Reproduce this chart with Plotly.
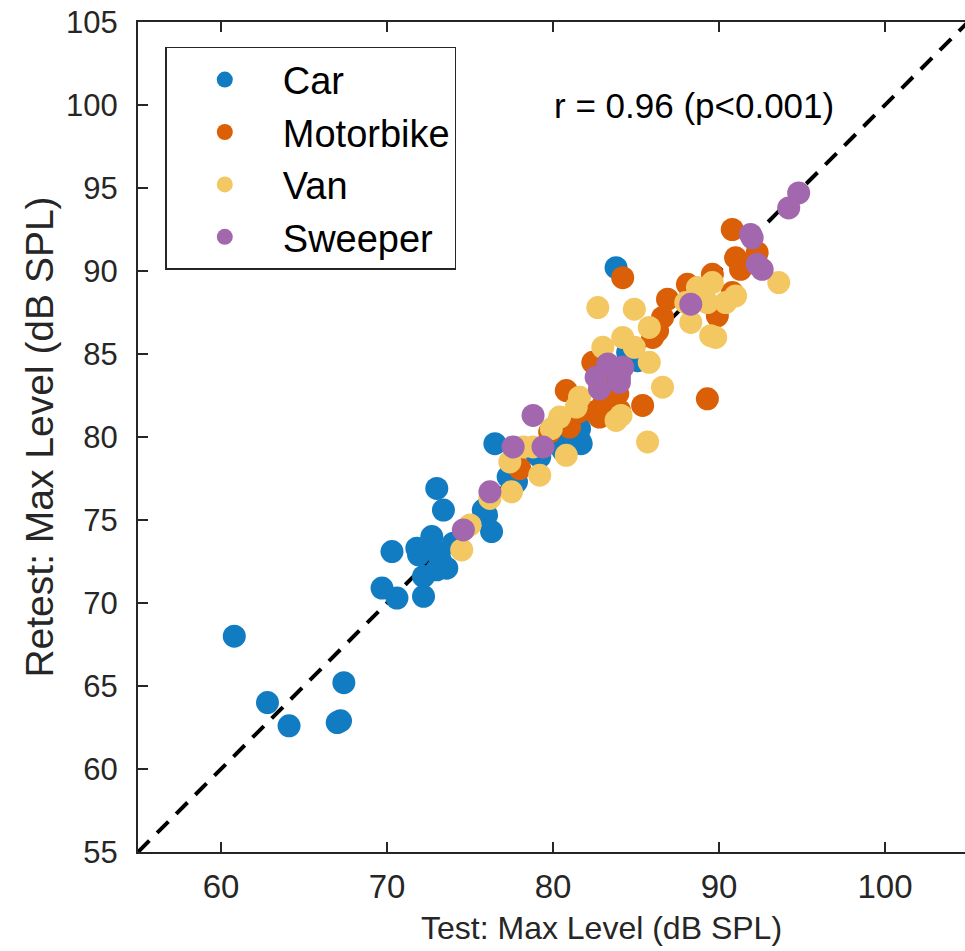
import plotly.graph_objects as go

# ---------------- data ----------------
car_x = [60.8, 62.8, 64.1, 67.0, 67.2, 67.4,
         69.7, 70.6, 70.3, 72.2, 72.2, 71.8, 71.9, 72.7, 72.8, 73.0, 73.6, 74.0, 73.2, 73.0, 73.4,
         75.8, 76.0, 76.3, 76.5, 77.3, 77.8, 77.5, 79.2, 79.0, 80.4, 80.6, 81.6, 81.7, 84.6, 83.8,
         84.5, 85.1, 81.6, 83.6]
car_y = [68.0, 64.0, 62.6, 62.8, 62.9, 65.2,
         70.9, 70.3, 73.1, 70.4, 71.6, 73.3, 72.9, 74.0, 73.2, 72.0, 72.1, 73.6, 72.6, 76.9, 75.6,
         75.6, 75.3, 74.3, 79.6, 77.6, 77.3, 78.0, 78.8, 79.0, 79.5, 79.2, 79.8, 79.6, 84.8, 90.2,
         85.1, 84.6, 80.5, 82.0]

moto_x = [84.2, 90.8, 91.0, 92.3, 91.3, 89.6, 88.1, 90.8, 89.9, 86.9, 86.6, 86.3, 86.0, 82.4,
          80.8, 83.0, 83.9, 85.4, 89.3, 83.3, 81.0, 82.8, 80.4, 79.8, 78.0, 83.5, 82.9, 84.0,
          82.5, 81.5]
moto_y = [89.6, 92.5, 90.8, 91.1, 90.1, 89.8, 89.2, 88.7, 87.3, 88.3, 87.2, 86.4, 86.0, 84.5,
          82.8, 81.9, 82.6, 81.9, 82.3, 82.4, 80.6, 81.2, 81.0, 80.3, 78.1, 83.0, 83.5, 81.6,
          81.5, 81.5]

van_x = [93.6, 90.4, 89.6, 89.3, 88.3, 89.5, 89.8, 82.7, 84.9, 85.8, 84.2, 83.0, 84.9, 85.8,
         86.6, 85.7, 81.6, 81.4, 84.1, 83.8, 79.9, 80.4, 78.8, 78.2, 77.4, 80.8, 79.2, 77.5,
         75.0, 74.5, 76.2, 91.0, 88.7, 88.0]
van_y = [89.3, 88.1, 89.3, 88.1, 86.9, 86.1, 86.0, 87.8, 87.7, 86.6, 86.0, 85.4, 85.4, 84.5,
         83.0, 79.7, 82.4, 81.8, 81.3, 81.0, 80.5, 81.2, 79.4, 79.4, 78.5, 78.9, 77.7, 76.7,
         74.7, 73.2, 76.3, 88.5, 89.0, 88.1]

sweep_x = [94.8, 94.2, 91.9, 92.0, 92.6, 92.3, 88.3, 84.2, 84.0, 82.6, 82.8, 84.0, 78.8, 77.6,
           79.4, 76.2, 74.6, 83.3]
sweep_y = [94.7, 93.8, 92.2, 92.0, 90.1, 90.4, 88.0, 84.2, 83.6, 83.6, 82.9, 83.3, 81.3, 79.4,
           79.4, 76.7, 74.4, 84.4]

series_names = ["Car", "Motorbike", "Van", "Sweeper"]
series_colors = ["#127CC3", "#DA5F06", "#F3C862", "#A267AC"]

ref_line = [55, 105]
tick_vals = [55, 60, 65, 70, 75, 80, 85, 90, 95, 100, 105]
x_tick_vals = [60, 70, 80, 90, 100]
annot_text = "r = 0.96 (p&lt;0.001)"
annot_pos = (88.5, 100.0)
x_title = "Test: Max Level (dB SPL)"
y_title = "Retest: Max Level (dB SPL)"

FONT = "Liberation Sans, Arial, Helvetica, sans-serif"
AXC = "#262626"

fig = go.Figure()
fig.add_trace(go.Scatter(x=ref_line, y=ref_line, mode="lines",
                         line=dict(color="black", width=4, dash="16px,11px"),
                         showlegend=False, hoverinfo="skip"))

for name, xs, ys, col in zip(series_names,
                             [car_x, moto_x, van_x, sweep_x],
                             [car_y, moto_y, van_y, sweep_y],
                             series_colors):
    fig.add_trace(go.Scatter(x=xs, y=ys, mode="markers", name=name,
                             marker=dict(size=23, color=col, line=dict(width=0))))

fig.add_annotation(x=annot_pos[0], y=annot_pos[1], xref="x", yref="y",
                   text=annot_text, showarrow=False,
                   font=dict(family=FONT, size=35, color="black"))

# x-axis title (sits slightly right of the plot centre in the reference)
fig.add_annotation(x=0.561, y=-0.092, xref="paper", yref="paper",
                   xanchor="center", yanchor="middle",
                   text=x_title, showarrow=False,
                   font=dict(family=FONT, size=32, color=AXC))

fig.update_layout(
    width=965, height=951,
    margin=dict(l=138, r=0, t=22, b=99),
    paper_bgcolor="white", plot_bgcolor="white",
    font=dict(family=FONT, color=AXC),
    showlegend=True,
    legend=dict(x=0.033, y=0.970, xanchor="left", yanchor="top",
                bgcolor="white", bordercolor=AXC, borderwidth=1.5,
                font=dict(family=FONT, size=38, color="black"),
                itemwidth=106, itemsizing="trace",
                tracegroupgap=0),
    xaxis=dict(range=[55, 104.82], tickvals=x_tick_vals, ticks="inside", ticklen=10,
               tickwidth=1.5, tickcolor=AXC, showline=True, linecolor=AXC, linewidth=2,
               mirror="ticks", showgrid=False, zeroline=False,
               tickfont=dict(family=FONT, size=33, color=AXC),
               ticklabelstandoff=4),
    yaxis=dict(range=[55, 105], tickvals=tick_vals, ticks="inside", ticklen=10,
               tickwidth=1.5, tickcolor=AXC, showline=True, linecolor=AXC, linewidth=2,
               mirror=False, showgrid=False, zeroline=False,
               tickfont=dict(family=FONT, size=31, color=AXC),
               ticklabelstandoff=12,
               title=dict(text=y_title,
                          font=dict(family=FONT, size=39, color=AXC), standoff=0)),
)

fig.write_html("out.html")
